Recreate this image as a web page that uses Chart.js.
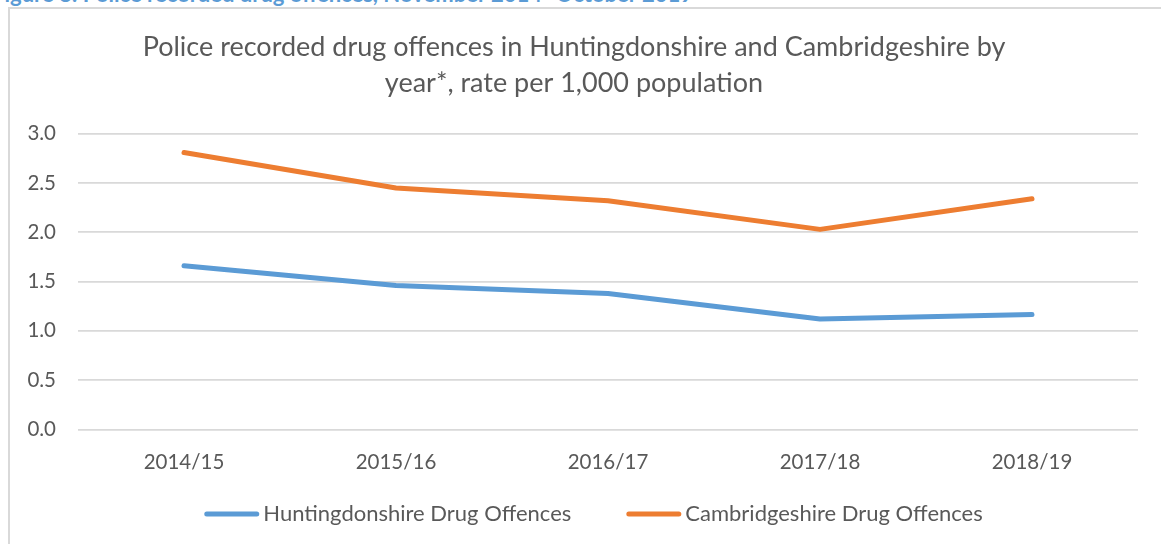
<!DOCTYPE html>
<html>
<head>
<meta charset="utf-8">
<script src="https://cdn.jsdelivr.net/npm/chart.js@4.4.0/dist/chart.umd.min.js"></script>
<style>
  html, body { margin: 0; padding: 0; background: #fff; overflow: hidden; width: 1161px; height: 544px; }
  #caption { position: absolute; left: -8px; top: -17px; font-family: Lato, "Open Sans", sans-serif; font-weight: bold; font-size: 22px; line-height: 22px; color: #5B9BD5; white-space: nowrap; }
  #frame { position: absolute; left: 8px; top: 7px; width: 1170px; height: 560px; border: 2px solid #d9d9d9; box-sizing: border-box; }
  #wrap { position: absolute; left: 10px; top: 9px; width: 1161px; height: 535px; }
</style>
</head>
<body>
<div id="caption">Figure 8: Police recorded drug offences, November 2014- October 2019</div>
<div id="frame"></div>
<div id="wrap"><canvas id="c"></canvas></div>
<script>
const categories = ["2014/15", "2015/16", "2016/17", "2017/18", "2018/19"];
const huntingdonshire = [1.66, 1.46, 1.38, 1.12, 1.165];
const cambridgeshire = [2.81, 2.45, 2.32, 2.03, 2.34];
const seriesNames = ["Huntingdonshire Drug Offences", "Cambridgeshire Drug Offences"];
const seriesColors = ["#5B9BD5", "#ED7D31"];
const titleLines = ["Police recorded drug offences in Huntingdonshire and Cambridgeshire by", "year*, rate per 1,000 population"];

const FONT = "Lato, 'Open Sans', sans-serif";
const TXT = "#595959";

const lineLegend = {
  id: "lineLegend",
  afterDraw(chart) {
    const ctx = chart.ctx;
    const fontSize = 22;
    const lineLen = 55, textGap = 4, itemGap = 55;
    const y = 505;
    ctx.save();
    ctx.font = fontSize + "px " + FONT;
    const items = chart.data.datasets.map(ds => ({ label: ds.label, color: ds.borderColor, w: ctx.measureText(ds.label).width }));
    const total = items.reduce((a, it) => a + lineLen + textGap + it.w, 0) + itemGap * (items.length - 1);
    let x = chart.width / 2 + 3 - total / 2;
    items.forEach(it => {
      ctx.strokeStyle = it.color;
      ctx.lineWidth = 5;
      ctx.lineCap = "round";
      ctx.beginPath();
      ctx.moveTo(x + 2.5, y);
      ctx.lineTo(x + lineLen - 2.5, y);
      ctx.stroke();
      ctx.fillStyle = TXT;
      ctx.textBaseline = "middle";
      ctx.textAlign = "left";
      ctx.fillText(it.label, x + lineLen + textGap, y);
      x += lineLen + textGap + it.w + itemGap;
    });
    ctx.restore();
  }
};

new Chart(document.getElementById("c"), {
  type: "line",
  data: {
    labels: categories,
    datasets: [
      { label: seriesNames[0], data: huntingdonshire, borderColor: seriesColors[0], backgroundColor: seriesColors[0], borderWidth: 5, pointRadius: 0, borderCapStyle: "round", borderJoinStyle: "round", tension: 0 },
      { label: seriesNames[1], data: cambridgeshire, borderColor: seriesColors[1], backgroundColor: seriesColors[1], borderWidth: 5, pointRadius: 0, borderCapStyle: "round", borderJoinStyle: "round", tension: 0 }
    ]
  },
  plugins: [lineLegend],
  options: {
    responsive: true,
    maintainAspectRatio: false,
    animation: false,
    layout: { padding: { left: 0, right: 33, top: 0, bottom: 48 } },
    plugins: {
      title: {
        display: true,
        text: titleLines,
        color: TXT,
        font: { family: FONT, size: 27, weight: "normal", lineHeight: 1.33 },
        padding: { top: 20, bottom: 33 }
      },
      legend: { display: false },
      tooltip: { enabled: false }
    },
    scales: {
      x: {
        offset: true,
        grid: { display: false, drawTicks: false },
        border: { display: false },
        ticks: { color: TXT, font: { family: FONT, size: 20.5 }, padding: 21, maxRotation: 0 }
      },
      y: {
        min: 0, max: 3,
        grid: { color: "#d9d9d9", lineWidth: 1.75, drawTicks: false },
        border: { display: false },
        ticks: { stepSize: 0.5, color: TXT, font: { family: FONT, size: 20.5 }, padding: 22, callback: v => v.toFixed(1) },
        afterFit: s => { s.width = 68; }
      }
    }
  }
});
</script>
</body>
</html>
